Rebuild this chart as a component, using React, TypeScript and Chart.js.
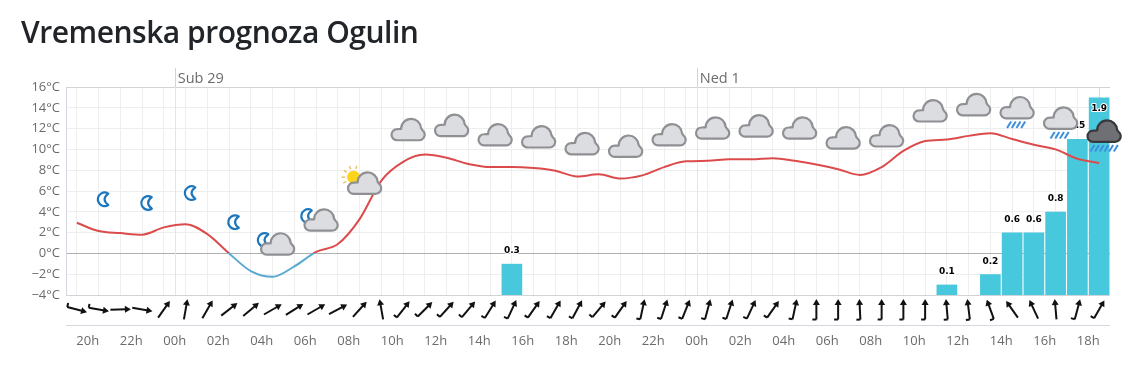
import React, { useEffect, useRef } from "react";
import { Chart, registerables } from "chart.js";

Chart.register(...registerables);

const titleText = "Vremenska prognoza Ogulin";
const hourLabels = ["19h","20h","21h","22h","23h","00h","01h","02h","03h","04h","05h","06h","07h","08h","09h","10h","11h","12h","13h","14h","15h","16h","17h","18h","19h","20h","21h","22h","23h","00h","01h","02h","03h","04h","05h","06h","07h","08h","09h","10h","11h","12h","13h","14h","15h","16h","17h","18h","19h"];
const dayTicks = [5, 29];
const dayLabels = ["Sub 29", "Ned 1"];
const temperature = [2.95,2.15,1.95,1.8,2.5,2.8,1.85,0,-1.7,-2.25,-1.25,0.15,0.9,3.3,7,8.8,9.5,9.2,8.6,8.3,8.3,8.2,7.95,7.4,7.6,7.2,7.5,8.3,8.85,8.9,9.05,9.05,9.15,8.9,8.55,8.1,7.55,8.3,9.85,10.8,10.95,11.3,11.55,11,10.45,10,9.1,8.7];
const rain = [0,0,0,0,0,0,0,0,0,0,0,0,0,0,0,0,0,0,0,0,0.3,0,0,0,0,0,0,0,0,0,0,0,0,0,0,0,0,0,0,0,0.1,0,0.2,0.6,0.6,0.8,1.5,1.9];
const windDirection = [105,100,88,100,35,10,30,52,50,60,58,60,62,42,-10,38,45,42,40,32,25,35,30,28,40,35,12,18,22,15,18,25,35,12,0,0,-3,0,0,0,-5,-7,-20,-35,-25,-5,15,30];
const windBarb = [1,1,0,0,0,0,0,0,0,0,0,0,0,0,0,1,1,1,1,1,1,1,1,1,1,1,1,1,1,1,1,1,1,1,1,1,1,1,1,1,1,1,1,0,0,0,1,1];
const iconHours = [1,3,5,7,9,11,13,15,17,19,21,23,25,27,29,31,33,35,37,39,41,43,45,47];
const iconKinds = ["moon","moon","moon","moon","moonCloud","moonCloud","sunCloud","cloud","cloud","cloud","cloud","cloud","cloud","cloud","cloud","cloud","cloud","cloud","cloud","cloud","cloud","rain","rain","heavy"];
const iconLevels = [5.2,4.85,5.8,3,0.9,3.2,6.75,11.9,12.3,11.4,11.2,10.55,10.3,11.4,12.05,12.25,12.05,11.1,11.3,13.7,14.3,14,13,11.75];

const FONT = '"Open Sans", sans-serif';

function cloud(ctx: CanvasRenderingContext2D, cx: number, cy: number, dark = false) {
  ctx.save();
  ctx.translate(cx, cy);
  ctx.beginPath();
  ctx.moveTo(-11, 10.6);
  ctx.arc(-11, 5, 5.6, Math.PI / 2, Math.PI * 1.5);
  ctx.lineTo(-7.2, -0.9);
  ctx.arc(3, -0.8, 10, Math.PI * 1.0, Math.PI * 1.98);
  ctx.arc(11, 5, 5.6, -Math.PI * 0.3, Math.PI / 2);
  ctx.closePath();
  ctx.fillStyle = dark ? "#6f7074" : "#dcdde0";
  ctx.strokeStyle = dark ? "#36383c" : "#8f9094";
  ctx.lineWidth = 2.2;
  ctx.fill();
  ctx.stroke();
  ctx.restore();
}

function moon(ctx: CanvasRenderingContext2D, cx: number, cy: number) {
  ctx.save();
  ctx.translate(cx, cy);
  ctx.beginPath();
  ctx.arc(0, 0, 6.8, Math.PI * 0.32, Math.PI * 1.68);
  ctx.quadraticCurveTo(-3.8, 0, 3.7, 5.7);
  ctx.closePath();
  ctx.fillStyle = "#ffffff";
  ctx.strokeStyle = "#1b76bd";
  ctx.lineWidth = 2.2;
  ctx.fill();
  ctx.stroke();
  ctx.restore();
}

function sun(ctx: CanvasRenderingContext2D, cx: number, cy: number) {
  ctx.save();
  ctx.translate(cx, cy);
  ctx.strokeStyle = "#e9c46a";
  ctx.lineWidth = 1.5;
  for (const a of [150, 180, 215, 250, 285]) {
    const r = (a * Math.PI) / 180;
    ctx.beginPath();
    ctx.moveTo(Math.cos(r) * 8.5, Math.sin(r) * 8.5);
    ctx.lineTo(Math.cos(r) * 12, Math.sin(r) * 12);
    ctx.stroke();
  }
  ctx.beginPath();
  ctx.arc(0, 0, 6.5, 0, Math.PI * 2);
  ctx.fillStyle = "#fdd31c";
  ctx.fill();
  ctx.restore();
}

function stripes(ctx: CanvasRenderingContext2D, cx: number, cy: number, count: number) {
  ctx.save();
  ctx.strokeStyle = "#3d8fdc";
  ctx.lineWidth = 2;
  for (let i = 0; i < count; i++) {
    const x = cx + (i - (count - 1) / 2) * 4.7;
    ctx.beginPath();
    ctx.moveTo(x - 2, cy + 3.3);
    ctx.lineTo(x + 2, cy - 3.3);
    ctx.stroke();
  }
  ctx.restore();
}

function arrow(ctx: CanvasRenderingContext2D, cx: number, cy: number, deg: number, barb: number) {
  ctx.save();
  ctx.translate(cx, cy);
  ctx.rotate((deg * Math.PI) / 180);
  ctx.strokeStyle = "#111111";
  ctx.fillStyle = "#111111";
  ctx.lineWidth = 2;
  ctx.beginPath();
  ctx.moveTo(0, 10);
  ctx.lineTo(0, -6);
  ctx.stroke();
  ctx.beginPath();
  ctx.moveTo(0, -10.5);
  ctx.lineTo(3.5, -4.5);
  ctx.lineTo(-3.5, -4.5);
  ctx.closePath();
  ctx.fill();
  if (barb) {
    ctx.beginPath();
    ctx.moveTo(0, 10);
    ctx.lineTo(-4, 10);
    ctx.stroke();
  }
  ctx.restore();
}

const decorations = {
  id: "decorations",
  beforeDatasetsDraw(chart: any) {
    const { ctx, chartArea, scales } = chart;
    ctx.save();
    ctx.lineWidth = 1;
    for (const v of dayTicks) {
      const x = Math.round(scales.xTop.getPixelForValue(v)) + 0.5;
      ctx.strokeStyle = "#d0d4da";
      ctx.beginPath();
      ctx.moveTo(x, chartArea.top - 19);
      ctx.lineTo(x, chartArea.top);
      ctx.stroke();
      ctx.strokeStyle = "#e2e5ea";
      ctx.beginPath();
      ctx.moveTo(x, chartArea.top);
      ctx.lineTo(x, chartArea.bottom);
      ctx.stroke();
    }
    ctx.strokeStyle = "#d4d8de";
    ctx.beginPath();
    ctx.moveTo(chartArea.left, chartArea.bottom + 30.5);
    ctx.lineTo(chartArea.right, chartArea.bottom + 30.5);
    ctx.stroke();
    ctx.restore();
  },
  afterDatasetsDraw(chart: any) {
    const { ctx, chartArea, scales } = chart;
    const x = scales.x;
    const y = scales.y;
    ctx.save();
    windDirection.forEach((d, i) => {
      arrow(ctx, x.getPixelForValue(i + 0.5), chartArea.bottom + 14.5, d, windBarb[i]);
    });
    const bars = chart.getDatasetMeta(1).data;
    ctx.font = 'bold 9px "DejaVu Sans", sans-serif';
    ctx.textAlign = "center";
    ctx.textBaseline = "middle";
    rain.forEach((v, i) => {
      if (!v) return;
      const el = bars[i];
      const inside = el.y - 13 < chartArea.top + 2;
      const ty = inside ? el.y + 11 : el.y - 13;
      ctx.lineWidth = 2;
      ctx.strokeStyle = "#ffffff";
      ctx.lineJoin = "round";
      ctx.strokeText(String(v), el.x, ty);
      ctx.fillStyle = "#000000";
      ctx.fillText(String(v), el.x, ty);
    });
    iconHours.forEach((h, i) => {
      const cx = x.getPixelForValue(h + 0.5) + 5;
      const cy = y.getPixelForValue(iconLevels[i]);
      const kind = iconKinds[i];
      if (kind === "moon") moon(ctx, cx + 1, cy);
      if (kind === "moonCloud") {
        moon(ctx, cx - 13, cy - 4);
        cloud(ctx, cx, cy);
      }
      if (kind === "sunCloud") {
        sun(ctx, cx - 11, cy - 6);
        cloud(ctx, cx, cy);
      }
      if (kind === "cloud") cloud(ctx, cx, cy);
      if (kind === "rain") {
        stripes(ctx, cx - 1, cy + 17, 4);
        cloud(ctx, cx, cy);
      }
      if (kind === "heavy") {
        stripes(ctx, cx, cy + 17, 6);
        cloud(ctx, cx, cy, true);
      }
    });
    ctx.restore();
  },
};

export default function App() {
  const ref = useRef<HTMLCanvasElement>(null);
  useEffect(() => {
    if (!ref.current) return;
    const chart = new Chart(ref.current, {
      type: "bar",
      plugins: [decorations],
      data: {
        datasets: [
          {
            type: "line",
            label: "Temperatura",
            data: temperature.map((t, i) => ({ x: i + 0.5, y: t })),
            yAxisID: "y",
            xAxisID: "x",
            order: 1,
            pointRadius: 0,
            borderWidth: 2,
            cubicInterpolationMode: "monotone",
            borderColor: (c: any) => {
              const { chartArea, scales } = c.chart;
              if (!chartArea) return "#dc4b4b";
              const g = c.chart.ctx.createLinearGradient(0, chartArea.top, 0, chartArea.bottom);
              const stop = (scales.y.getPixelForValue(0) - chartArea.top) / (chartArea.bottom - chartArea.top);
              g.addColorStop(0, "#dc4b4b");
              g.addColorStop(stop, "#dc4b4b");
              g.addColorStop(stop, "#5aa9d0");
              g.addColorStop(1, "#5aa9d0");
              return g;
            },
          },
          {
            type: "bar",
            label: "Oborine",
            data: rain.map((r, i) => ({ x: i + 0.5, y: r })),
            yAxisID: "y2",
            xAxisID: "x",
            order: 2,
            backgroundColor: "#47c8dc",
            barPercentage: 0.95,
            categoryPercentage: 1,
          },
        ],
      } as any,
      options: {
        animation: false,
        responsive: false,
        events: [],
        layout: { padding: { left: 0, right: 36, top: 0, bottom: 0 } },
        plugins: { legend: { display: false }, tooltip: { enabled: false }, title: { display: false } },
        scales: {
          x: {
            type: "linear",
            position: "bottom",
            offset: false,
            min: 0,
            max: 48,
            afterFit: (s: any) => { s.height = 73; },
            grid: {
              drawTicks: false,
              color: (c: any) => (c.tick && (c.tick.value === 0 || c.tick.value === 48) ? "#d4d8de" : "#eeeeee"),
            },
            border: { display: false },
            ticks: {
              stepSize: 1,
              autoSkip: false,
              maxRotation: 0,
              padding: 38,
              color: "#6b6b6b",
              font: { family: FONT, size: 13 },
              callback: (v: any) => (Number(v) % 2 === 1 ? hourLabels[Number(v)] : ""),
            },
          },
          xTop: {
            type: "linear",
            position: "top",
            min: 0,
            max: 48,
            offset: false,
            afterFit: (s: any) => { s.height = 87; },
            afterBuildTicks: (s: any) => { s.ticks = dayTicks.map((value) => ({ value })); },
            grid: { drawTicks: false, drawOnChartArea: false },
            border: { display: false },
            ticks: {
              autoSkip: false,
              maxRotation: 0,
              align: "start",
              padding: -1,
              labelOffset: 3,
              color: "#6b6b6b",
              font: { family: FONT, size: 14.5 },
              callback: (v: any) => dayLabels[dayTicks.indexOf(Number(v))],
            },
          },
          y: {
            type: "linear",
            position: "left",
            min: -4,
            max: 16,
            afterFit: (s: any) => { s.width = 66; },
            grid: {
              drawTicks: false,
              color: (c: any) => {
                const v = c.tick ? c.tick.value : 1;
                return v === 0 ? "#b0b0b0" : v === 16 || v === -4 ? "#d0d3d8" : "#eeeeee";
              },
            },
            border: { display: true, color: "#d4d8de" },
            ticks: {
              stepSize: 2,
              padding: 6,
              color: "#6b6b6b",
              font: { family: FONT, size: 13 },
              callback: (v: any) => `${Number(v) < 0 ? "\u2212" + Math.abs(Number(v)) : v}°C`,
            },
          },
          y2: { type: "linear", display: false, position: "right", min: 0, max: 2 },
        },
      } as any,
    });
    return () => chart.destroy();
  }, []);
  return (
    <div style={{ position: "absolute", left: 0, top: 0, width: 1148, height: 368, background: "#fff", overflow: "hidden" }}>
      <div style={{ position: "absolute", left: 21, top: 11, fontFamily: FONT, fontWeight: 600, fontSize: 30, lineHeight: "41px", letterSpacing: "-0.48px", color: "#212529", whiteSpace: "nowrap" }}>
        {titleText}
      </div>
      <canvas ref={ref} width={1148} height={368} style={{ display: "block" }} />
    </div>
  );
}
